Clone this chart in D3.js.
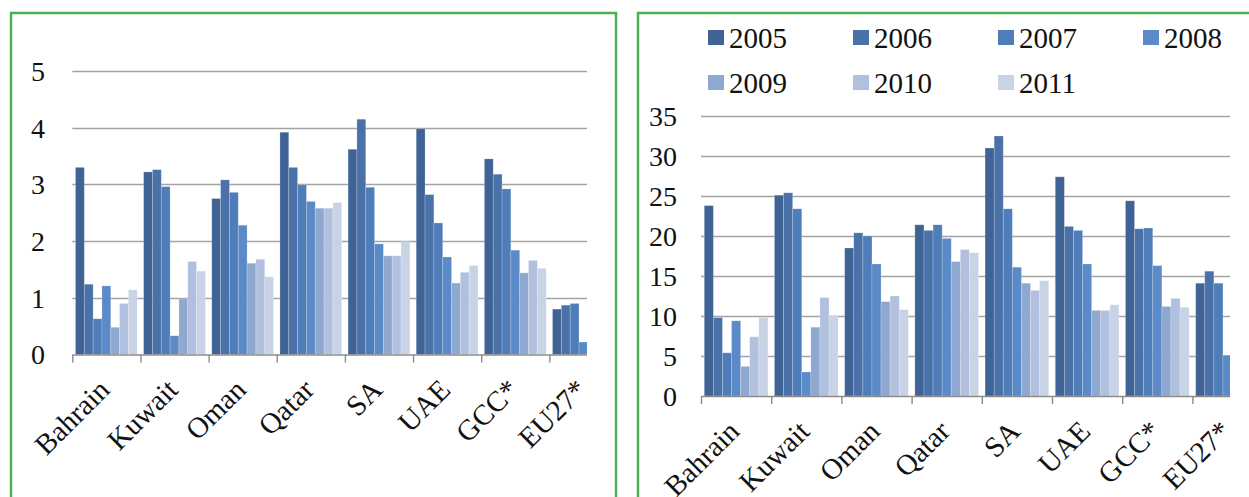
<!DOCTYPE html>
<html>
<head>
<meta charset="utf-8">
<script src="https://cdn.jsdelivr.net/npm/d3@7"></script>
<style>
  html, body { margin: 0; padding: 0; background: #ffffff; }
  svg { display: block; }
</style>
</head>
<body>
<svg id="chart" width="1249" height="497"></svg>
<script>
const serif = '"Liberation Serif", "Times New Roman", serif';

// Categories and years shared by both panels
const categories = ["Bahrain", "Kuwait", "Oman", "Qatar", "SA", "UAE", "GCC*", "EU27*"];
const years = ["2005", "2006", "2007", "2008", "2009", "2010", "2011"];
const yearColors = ["#3f6395", "#4a71a8", "#4f7db9", "#5a8ac7", "#8fa8cf", "#b0c0de", "#c9d3e6"];

// Left panel values, one array per year (EU27* later years fall outside the frame)
const left2005 = [3.30, 3.22, 2.75, 3.92, 3.62, 3.98, 3.45, 0.80];
const left2006 = [1.24, 3.26, 3.08, 3.30, 4.15, 2.82, 3.18, 0.87];
const left2007 = [0.63, 2.96, 2.86, 2.99, 2.95, 2.32, 2.92, 0.90];
const left2008 = [1.21, 0.33, 2.28, 2.70, 1.95, 1.72, 1.84, 0.22];
const left2009 = [0.48, 0.98, 1.61, 2.58, 1.74, 1.26, 1.44, null];
const left2010 = [0.90, 1.64, 1.68, 2.58, 1.74, 1.45, 1.66, null];
const left2011 = [1.14, 1.47, 1.37, 2.68, 1.99, 1.57, 1.52, null];
const leftTicks = [0, 1, 2, 3, 4, 5];

// Right panel values, one array per year
const right2005 = [23.8, 25.1, 18.5, 21.4, 31.0, 27.4, 24.4, 14.1];
const right2006 = [9.8, 25.4, 20.4, 20.7, 32.5, 21.2, 20.9, 15.6];
const right2007 = [5.4, 23.4, 20.0, 21.4, 23.4, 20.7, 21.0, 14.1];
const right2008 = [9.4, 3.0, 16.5, 19.7, 16.1, 16.5, 16.3, 5.1];
const right2009 = [3.7, 8.6, 11.8, 16.8, 14.1, 10.7, 11.2, null];
const right2010 = [7.4, 12.3, 12.5, 18.3, 13.2, 10.7, 12.2, null];
const right2011 = [9.8, 10.1, 10.8, 17.9, 14.4, 11.4, 11.1, null];
const rightTicks = [0, 5, 10, 15, 20, 25, 30, 35];

const leftSeries = [left2005, left2006, left2007, left2008, left2009, left2010, left2011];
const rightSeries = [right2005, right2006, right2007, right2008, right2009, right2010, right2011];

const svg = d3.select("#chart");

// Green frames around each panel
svg.append("rect").attr("x", 11).attr("y", 13).attr("width", 605).attr("height", 500)
  .attr("fill", "none").attr("stroke", "#4caf50").attr("stroke-width", 2.5);
svg.append("rect").attr("x", 638).attr("y", 13).attr("width", 640).attr("height", 500)
  .attr("fill", "none").attr("stroke", "#4caf50").attr("stroke-width", 2.5);

function drawPanel(opts) {
  const { id, series, ticks, yMax, x0, groupW, clipRight, baseY, topY, labelX } = opts;
  const g = svg.append("g");

  const x = d3.scaleBand().domain(categories).range([x0, x0 + groupW * categories.length])
    .paddingInner(0).paddingOuter(0);
  const x1 = d3.scaleBand().domain(years).range([0, x.bandwidth()])
    .paddingInner(0).paddingOuter(0.36);
  const y = d3.scaleLinear().domain([0, yMax]).range([baseY, topY]);

  // Clip everything in the plot at the frame's visible edge
  g.append("clipPath").attr("id", id).append("rect")
    .attr("x", x0 - 2).attr("y", 0).attr("width", clipRight - x0 + 2).attr("height", 497);
  const plot = g.append("g").attr("clip-path", `url(#${id})`);

  // Horizontal gridlines
  plot.selectAll("line.grid").data(ticks.filter(t => t > 0)).join("line")
    .attr("class", "grid")
    .attr("x1", x0).attr("x2", clipRight)
    .attr("y1", d => Math.round(y(d)) + 0.5).attr("y2", d => Math.round(y(d)) + 0.5)
    .attr("stroke", "#a3a3a3").attr("stroke-width", 1.6);

  // Bars, grouped by category
  const groups = plot.selectAll("g.cat").data(categories).join("g")
    .attr("class", "cat")
    .attr("transform", d => `translate(${x(d)},0)`);
  groups.selectAll("rect").data((c, ci) => years.map((yr, si) => ({ yr, si, v: series[si][ci] }))
      .filter(d => d.v !== null))
    .join("rect")
    .attr("x", d => x1(d.yr))
    .attr("width", x1.bandwidth())
    .attr("y", d => y(d.v))
    .attr("height", d => baseY - y(d.v))
    .attr("fill", d => yearColors[d.si])
    .attr("stroke", "rgba(255,255,255,0.25)")
    .attr("stroke-width", 0.8);

  // Category axis with tick marks between groups
  const xAxis = d3.axisBottom(x).tickSize(0).tickFormat("");
  const axisG = plot.append("g").attr("transform", `translate(0,${baseY})`).call(xAxis);
  axisG.select(".domain").attr("stroke", "#8c8c8c").attr("stroke-width", 1.6);
  plot.selectAll("line.sep").data(categories).join("line")
    .attr("class", "sep")
    .attr("x1", d => x(d) + 0.5).attr("x2", d => x(d) + 0.5)
    .attr("y1", baseY).attr("y2", baseY + 8)
    .attr("stroke", "#8c8c8c").attr("stroke-width", 1.4);

  // Value labels on the left
  g.selectAll("text.ytick").data(ticks).join("text")
    .attr("class", "ytick")
    .attr("x", labelX).attr("y", d => y(d))
    .attr("dy", "0.35em")
    .attr("text-anchor", "end")
    .style("font-family", serif).style("font-size", "28px").style("fill", "#111")
    .text(d => d);

  // Rotated category names
  g.selectAll("text.cat").data(categories).join("text")
    .attr("class", "cat")
    .attr("text-anchor", "end")
    .style("font-family", serif).style("font-size", "29px").style("fill", "#111")
    .attr("transform", d => `translate(${x(d) + x.bandwidth() / 2 + 5},${baseY + 37}) rotate(-45)`)
    .text(d => d);
}

drawPanel({
  id: "clipLeft", series: leftSeries, ticks: leftTicks, yMax: 5,
  x0: 72.3, groupW: 68.15, clipRight: 587, baseY: 354.5, topY: 71, labelX: 45
});

drawPanel({
  id: "clipRight", series: rightSeries, ticks: rightTicks, yMax: 35,
  x0: 701, groupW: 70.2, clipRight: 1230, baseY: 396, topY: 116, labelX: 677
});

// Year legend in two rows above the right panel
const legendCols = [708, 853, 998, 1143];
const legendRows = [38, 83];
const legend = svg.append("g").selectAll("g").data(years).join("g")
  .attr("transform", (d, i) => `translate(${legendCols[i % 4]},${legendRows[Math.floor(i / 4)]})`);
legend.append("rect").attr("x", 0).attr("y", -8).attr("width", 16).attr("height", 15)
  .attr("fill", (d, i) => yearColors[i]);
legend.append("text").attr("x", 21).attr("y", 0).attr("dy", "0.35em")
  .style("font-family", serif).style("font-size", "29px").style("fill", "#111")
  .text(d => d);
</script>
</body>
</html>
